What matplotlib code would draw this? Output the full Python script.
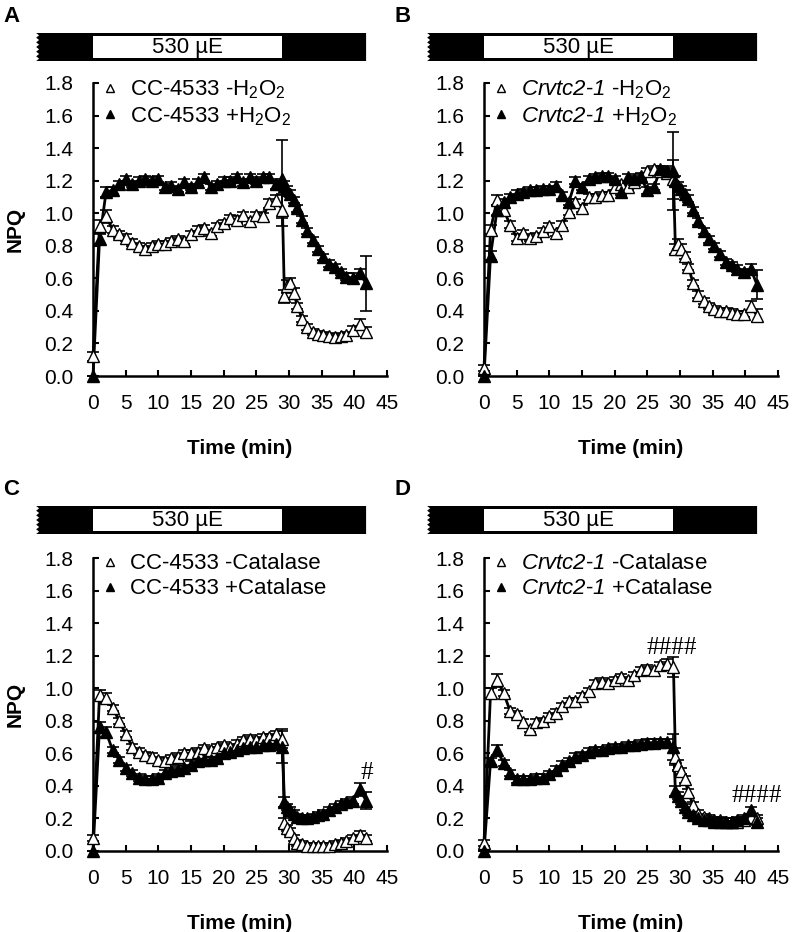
import matplotlib
matplotlib.use("Agg")
import matplotlib.pyplot as plt
from matplotlib.lines import Line2D
from matplotlib.patches import Polygon, Rectangle

plt.rcParams['font.family'] = ['Liberation Sans', 'DejaVu Sans']
plt.rcParams['mathtext.fontset'] = 'custom'
plt.rcParams['mathtext.rm'] = 'Liberation Sans'
plt.rcParams['mathtext.it'] = 'Liberation Sans:italic'
plt.rcParams['mathtext.sf'] = 'Liberation Sans:italic'   # italic incl. digits
plt.rcParams['mathtext.bf'] = 'Liberation Sans:bold'

# *** Data ***
time_min = [0, 1, 2, 3, 4, 5, 6, 7, 8, 9,
            10, 11, 12, 13, 14, 15, 16, 17, 18, 19,
            20, 21, 22, 23, 24, 25, 26, 27, 28, 29,
            29.3, 29.7, 30.2, 30.7, 31.3, 32, 32.8, 33.6, 34.4, 35.2,
            36.1, 37, 37.9, 38.8, 39.8, 40.8, 41.8]

# A: CC-4533 +/- H2O2
a_minus = [0.12, 0.92, 0.98, 0.90, 0.87, 0.85, 0.82, 0.80, 0.78, 0.80,
           0.81, 0.81, 0.83, 0.84, 0.83, 0.87, 0.90, 0.91, 0.88, 0.92,
           0.94, 0.97, 0.96, 0.99, 0.95, 0.99, 0.98, 1.06, 1.08, 1.02,
           0.49, 0.55, 0.57, 0.51, 0.43, 0.35, 0.30, 0.27, 0.255, 0.25,
           0.245, 0.24, 0.245, 0.25, 0.28, 0.32, 0.27]
a_minus_err = [0.03, 0.04, 0.04, 0.02, 0.02, 0.02, 0.02, 0.02, 0.02, 0.02,
               0.02, 0.02, 0.02, 0.02, 0.02, 0.02, 0.02, 0.02, 0.02, 0.02,
               0.02, 0.02, 0.02, 0.02, 0.02, 0.02, 0.02, 0.03, 0.03, 0.10,
               0.04, 0.04, 0.03, 0.03, 0.02, 0.02, 0.02, 0.02, 0.02, 0.02,
               0.02, 0.02, 0.02, 0.02, 0.03, 0.03, 0.03]
a_plus = [0.0, 0.84, 1.13, 1.14, 1.18, 1.21, 1.18, 1.20, 1.21, 1.20,
          1.21, 1.16, 1.17, 1.15, 1.19, 1.16, 1.19, 1.22, 1.16, 1.18,
          1.20, 1.20, 1.22, 1.19, 1.22, 1.20, 1.22, 1.22, 1.18, 1.21,
          1.17, 1.14, 1.12, 1.08, 1.03, 0.96, 0.89, 0.835, 0.78, 0.73,
          0.69, 0.67, 0.64, 0.61, 0.60, 0.63, 0.57]
a_plus_err = [0.0, 0.03, 0.03, 0.02, 0.02, 0.02, 0.02, 0.02, 0.02, 0.02,
              0.02, 0.02, 0.02, 0.02, 0.02, 0.02, 0.02, 0.02, 0.02, 0.02,
              0.02, 0.02, 0.02, 0.02, 0.02, 0.02, 0.02, 0.02, 0.03, 0.24,
              0.03, 0.03, 0.02, 0.02, 0.02, 0.02, 0.02, 0.02, 0.02, 0.02,
              0.02, 0.02, 0.02, 0.02, 0.03, 0.03, 0.17]

# B: Crvtc2-1 +/- H2O2
b_minus = [0.05, 0.90, 1.08, 1.02, 0.93, 0.85, 0.88, 0.85, 0.86, 0.89,
           0.92, 0.88, 0.93, 1.01, 1.07, 1.03, 1.10, 1.10, 1.11, 1.11,
           1.16, 1.18, 1.16, 1.19, 1.23, 1.26, 1.27, 1.26, 1.25, 1.21,
           0.78, 0.81, 0.78, 0.74, 0.67, 0.57, 0.50, 0.46, 0.43, 0.41,
           0.40, 0.40, 0.39, 0.38, 0.38, 0.43, 0.37]
b_minus_err = [0.02, 0.03, 0.03, 0.03, 0.02, 0.02, 0.02, 0.02, 0.02, 0.02,
               0.02, 0.02, 0.02, 0.02, 0.02, 0.02, 0.02, 0.02, 0.02, 0.02,
               0.02, 0.02, 0.02, 0.02, 0.02, 0.02, 0.02, 0.02, 0.03, 0.12,
               0.03, 0.03, 0.03, 0.02, 0.02, 0.02, 0.02, 0.02, 0.02, 0.02,
               0.02, 0.02, 0.02, 0.02, 0.02, 0.03, 0.04]
b_plus = [0.0, 0.74, 1.02, 1.07, 1.10, 1.12, 1.13, 1.14, 1.14, 1.15,
          1.15, 1.17, 1.11, 1.07, 1.20, 1.16, 1.21, 1.22, 1.23, 1.23,
          1.21, 1.13, 1.22, 1.21, 1.22, 1.14, 1.16, 1.27, 1.26, 1.26,
          1.20, 1.17, 1.15, 1.12, 1.09, 1.02, 0.95, 0.89, 0.84, 0.80,
          0.75, 0.70, 0.68, 0.66, 0.64, 0.66, 0.56]
b_plus_err = [0.0, 0.03, 0.03, 0.02, 0.02, 0.02, 0.02, 0.02, 0.02, 0.02,
              0.02, 0.02, 0.02, 0.02, 0.02, 0.02, 0.02, 0.02, 0.02, 0.02,
              0.02, 0.02, 0.02, 0.02, 0.02, 0.02, 0.02, 0.02, 0.03, 0.24,
              0.03, 0.02, 0.02, 0.02, 0.02, 0.02, 0.02, 0.02, 0.02, 0.02,
              0.02, 0.02, 0.02, 0.02, 0.02, 0.03, 0.09]

# C: CC-4533 +/- Catalase
c_minus = [0.08, 0.96, 0.94, 0.88, 0.80, 0.72, 0.64, 0.61, 0.59, 0.58,
           0.56, 0.55, 0.57, 0.58, 0.60, 0.60, 0.61, 0.63, 0.62, 0.64,
           0.65, 0.64, 0.66, 0.68, 0.69, 0.68, 0.70, 0.70, 0.72, 0.69,
           0.17, 0.14, 0.12, 0.08, 0.05, 0.04, 0.03, 0.03, 0.03, 0.03,
           0.03, 0.04, 0.05, 0.06, 0.08, 0.10, 0.08]
c_minus_err = [0.02, 0.03, 0.03, 0.02, 0.02, 0.02, 0.02, 0.02, 0.02, 0.02,
               0.02, 0.02, 0.02, 0.02, 0.02, 0.02, 0.02, 0.02, 0.02, 0.02,
               0.02, 0.02, 0.02, 0.02, 0.02, 0.02, 0.02, 0.02, 0.02, 0.06,
               0.03, 0.02, 0.02, 0.02, 0.02, 0.02, 0.02, 0.02, 0.02, 0.02,
               0.02, 0.02, 0.02, 0.02, 0.02, 0.02, 0.02]
c_plus = [0.0, 0.76, 0.73, 0.62, 0.56, 0.51, 0.48, 0.45, 0.44, 0.44,
          0.45, 0.48, 0.49, 0.50, 0.51, 0.53, 0.55, 0.56, 0.56, 0.57,
          0.60, 0.61, 0.62, 0.63, 0.64, 0.64, 0.65, 0.65, 0.66, 0.64,
          0.30, 0.27, 0.25, 0.23, 0.21, 0.20, 0.20, 0.21, 0.22, 0.23,
          0.25, 0.27, 0.29, 0.30, 0.31, 0.38, 0.31]
c_plus_err = [0.0, 0.03, 0.03, 0.02, 0.02, 0.02, 0.02, 0.02, 0.02, 0.02,
              0.02, 0.02, 0.02, 0.02, 0.02, 0.02, 0.02, 0.02, 0.02, 0.02,
              0.02, 0.02, 0.02, 0.02, 0.02, 0.02, 0.02, 0.02, 0.02, 0.10,
              0.03, 0.02, 0.02, 0.02, 0.02, 0.02, 0.02, 0.02, 0.02, 0.02,
              0.02, 0.02, 0.02, 0.02, 0.02, 0.04, 0.05]

# D: Crvtc2-1 +/- Catalase
d_minus = [0.05, 0.97, 1.05, 0.97, 0.86, 0.84, 0.79, 0.75, 0.79, 0.80,
           0.83, 0.85, 0.89, 0.92, 0.92, 0.95, 0.98, 1.03, 1.04, 1.03,
           1.05, 1.07, 1.05, 1.08, 1.11, 1.12, 1.11, 1.14, 1.15, 1.13,
           0.58, 0.53, 0.49, 0.44, 0.36, 0.28, 0.23, 0.21, 0.20, 0.19,
           0.19, 0.18, 0.18, 0.18, 0.19, 0.21, 0.20]
d_minus_err = [0.02, 0.03, 0.04, 0.02, 0.02, 0.02, 0.02, 0.02, 0.02, 0.02,
               0.02, 0.02, 0.02, 0.02, 0.02, 0.02, 0.02, 0.02, 0.02, 0.02,
               0.02, 0.02, 0.02, 0.02, 0.02, 0.02, 0.02, 0.02, 0.03, 0.06,
               0.05, 0.03, 0.02, 0.02, 0.02, 0.02, 0.02, 0.02, 0.02, 0.02,
               0.02, 0.02, 0.02, 0.02, 0.02, 0.02, 0.02]
d_plus = [0.0, 0.55, 0.62, 0.54, 0.48, 0.44, 0.44, 0.44, 0.45, 0.45,
          0.47, 0.50, 0.53, 0.55, 0.58, 0.59, 0.61, 0.62, 0.62, 0.63,
          0.64, 0.64, 0.65, 0.65, 0.66, 0.665, 0.665, 0.67, 0.67, 0.64,
          0.37, 0.34, 0.31, 0.27, 0.24, 0.22, 0.20, 0.19, 0.19, 0.18,
          0.18, 0.18, 0.18, 0.19, 0.20, 0.25, 0.18]
d_plus_err = [0.0, 0.02, 0.03, 0.02, 0.02, 0.02, 0.02, 0.02, 0.02, 0.02,
              0.02, 0.02, 0.02, 0.02, 0.02, 0.02, 0.02, 0.02, 0.02, 0.02,
              0.02, 0.02, 0.02, 0.02, 0.02, 0.02, 0.02, 0.02, 0.02, 0.08,
              0.03, 0.02, 0.02, 0.02, 0.02, 0.02, 0.02, 0.02, 0.02, 0.02,
              0.02, 0.02, 0.02, 0.02, 0.02, 0.02, 0.02]

crv = r'$\mathsf{Crvtc2}$-$\mathsf{1}$'
labels_a = [r'CC-4533 -H$_2$O$_2$', r'CC-4533 +H$_2$O$_2$']
labels_b = [crv + r' -H$_2$O$_2$', crv + r' +H$_2$O$_2$']
labels_c = ['CC-4533 -Catalase', 'CC-4533 +Catalase']
labels_d = [crv + ' -Catalase', crv + ' +Catalase']

# significance marks: (text, time, NPQ)
marks_c = [('#', 41.9, 0.48)]
marks_d = [('####', 28.8, 1.25), ('####', 41.8, 0.34)]

LIGHT_END = 29.0      # light period 0-29 min
BAR_START = -8.7
BAR_END = 41.8

# *** Layout ***
W, H = 792, 932
AX_W, AX_H = 294 / W, 293 / H
panels = [
    dict(letter='A', left=93, bottom=376, bar_top=33, ylabel=True,
         minus=a_minus, minus_err=a_minus_err, plus=a_plus, plus_err=a_plus_err,
         labels=labels_a, marks=[]),
    dict(letter='B', left=484, bottom=376, bar_top=33, ylabel=False,
         minus=b_minus, minus_err=b_minus_err, plus=b_plus, plus_err=b_plus_err,
         labels=labels_b, marks=[]),
    dict(letter='C', left=93, bottom=851, bar_top=506, ylabel=True,
         minus=c_minus, minus_err=c_minus_err, plus=c_plus, plus_err=c_plus_err,
         labels=labels_c, marks=marks_c),
    dict(letter='D', left=484, bottom=851, bar_top=506, ylabel=False,
         minus=d_minus, minus_err=d_minus_err, plus=d_plus, plus_err=d_plus_err,
         labels=labels_d, marks=marks_d),
]

fig = plt.figure(figsize=(W / 100, H / 100), dpi=100)


def draw_light_bar(ax, top_px):
    l, b, w, h = ax.get_position().bounds
    x0, x1 = ax.get_xlim()
    left = l + (BAR_START - x0) / (x1 - x0) * w
    width = (x1 - BAR_START) / (x1 - x0) * w
    bax = fig.add_axes([left, (H - top_px - 28) / H, width, 28 / H])
    bax.set_xlim(BAR_START, x1)
    bax.set_ylim(0, 1)
    bax.axis('off')
    # black (dark) bar with a torn left edge
    n = 12
    edge = [(BAR_START + (0.45 if i % 2 else 0.0), 1 - i / n) for i in range(n + 1)]
    pts = [(BAR_END, 0), (BAR_END, 1)] + edge
    bax.add_patch(Polygon(pts, closed=True, fc='black', ec='none'))
    bax.add_patch(Rectangle((0, 0.11), LIGHT_END, 0.78, fc='white', ec='none'))
    bax.text(LIGHT_END / 2, 0.47, '530 µE', ha='center', va='center', fontsize=16)


for p in panels:
    ax = fig.add_axes([p['left'] / W, (H - p['bottom']) / H, AX_W, AX_H])
    ax.set_xlim(0, 45)
    ax.set_ylim(0, 1.8)

    for y, err, face, z in [(p['minus'], p['minus_err'], 'white', 4),
                            (p['plus'], p['plus_err'], 'black', 5)]:
        ax.errorbar(time_min, y, yerr=err, fmt='none', ecolor='black',
                    elinewidth=1.2, capsize=4, capthick=1.2, zorder=2, clip_on=False)
        ax.plot(time_min, y, '-', color='black', lw=2.0, zorder=3, clip_on=False)
        ax.plot(time_min, y, ls='none', marker='^', ms=8.5, mfc=face, mec='black',
                mew=1.0, zorder=z, clip_on=False)

    for txt, tx, ty in p['marks']:
        ax.text(tx, ty, txt, ha='center', va='center', fontsize=18,
                family='Liberation Serif')

    handles = [Line2D([], [], ls='none', marker='^', ms=6, mfc='white', mec='black', mew=1),
               Line2D([], [], ls='none', marker='^', ms=6, mfc='black', mec='black', mew=1)]
    ax.legend(handles, p['labels'], loc='upper left', bbox_to_anchor=(0.03, 1.016),
              frameon=False, fontsize=16, handlelength=0.75, handletextpad=0.5,
              labelspacing=0.18, borderpad=0, borderaxespad=0)

    for s in ['top', 'right']:
        ax.spines[s].set_visible(False)
    for s in ['left', 'bottom']:
        ax.spines[s].set_linewidth(1.8)
    ax.set_xticks(range(0, 46, 5))
    ax.set_yticks([i / 5 for i in range(10)])
    ax.set_yticklabels([f'{i / 5:.1f}' for i in range(10)])
    ax.tick_params(direction='in', length=4, width=1.5, labelsize=15)
    ax.tick_params(axis='x', pad=13)
    ax.tick_params(axis='y', pad=14)
    ax.set_xlabel('Time (min)', fontsize=15, fontweight='bold', labelpad=19)
    if p['ylabel']:
        ax.set_ylabel('NPQ', fontsize=15, fontweight='bold', labelpad=14)

    draw_light_bar(ax, p['bar_top'])
    lx = 3 if p['left'] < 200 else 394
    fig.text(lx / W, 1 - (p['bar_top'] - 27) / H, p['letter'], ha='left', va='top',
             fontsize=16, fontweight='bold')

fig.savefig('out.png', dpi=100)
